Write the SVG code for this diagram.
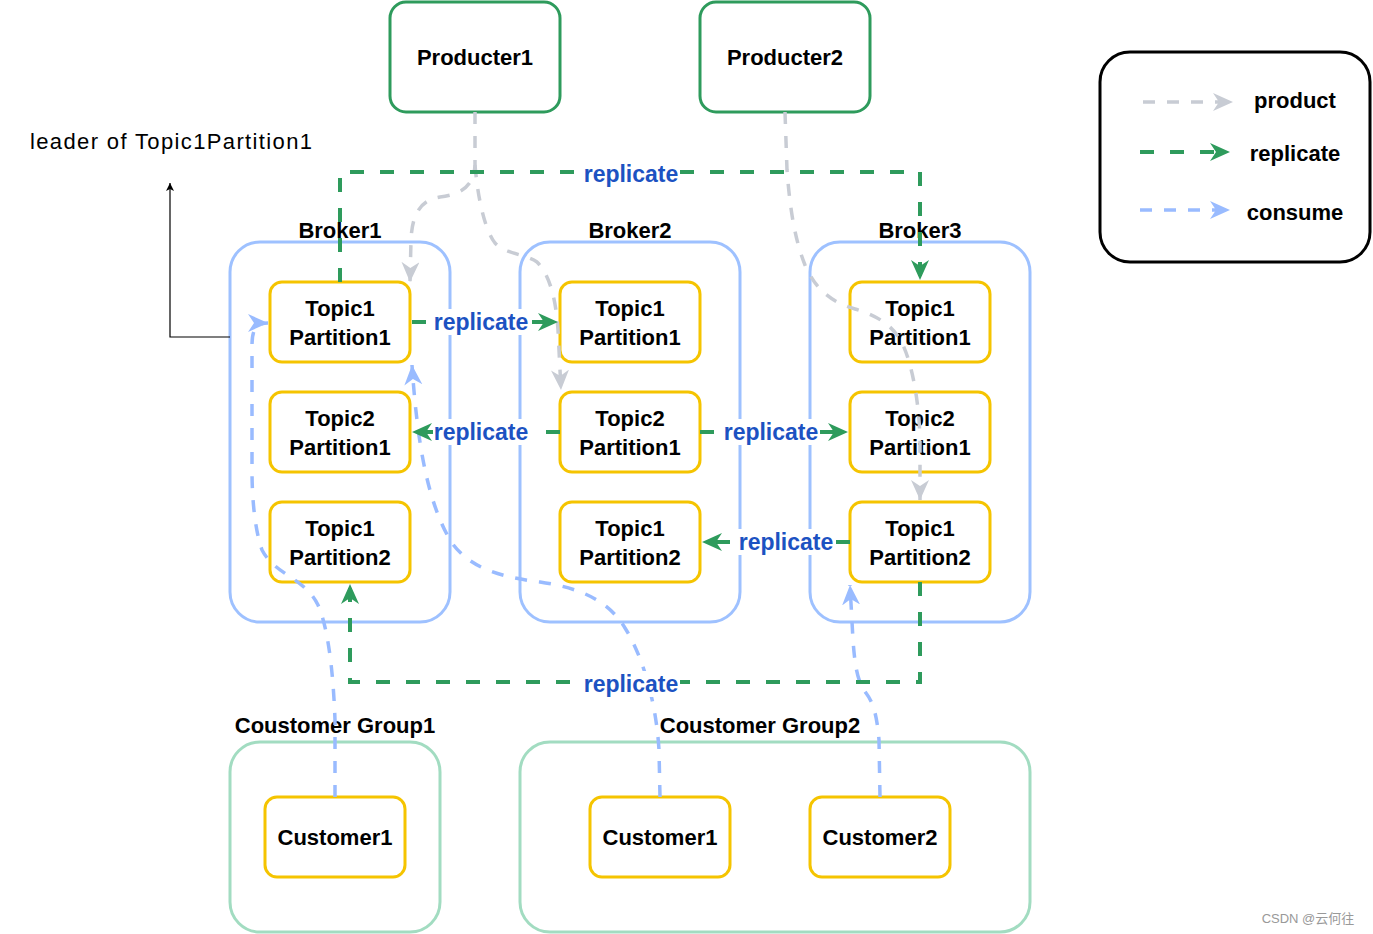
<svg xmlns="http://www.w3.org/2000/svg" width="1373" height="934" viewBox="0 0 1373 934">
<style>
text{font-family:"Liberation Sans",Arial,sans-serif;fill:#000;text-anchor:middle;dominant-baseline:central}
.b{font-weight:bold;font-size:22px}
.n{font-size:22px}
.prod{fill:#fff;stroke:#2e9b5c;stroke-width:3}
.brk{fill:none;stroke:#9ec1ff;stroke-width:3}
.part{fill:#fff;stroke:#f5c400;stroke-width:3}
.grp{fill:none;stroke:#a2dcc1;stroke-width:3}
.leg{fill:#fff;stroke:#000;stroke-width:3}
.g{fill:none;stroke:#2e9b5c;stroke-width:4;stroke-dasharray:14 16}
.p{fill:none;stroke:#c8ccd4;stroke-width:3.5;stroke-dasharray:12 12}
.c{fill:none;stroke:#99bbff;stroke-width:3.5;stroke-dasharray:12 12}
.lbl{fill:#1c52c2;font-size:23px;font-weight:bold}
.bg{fill:#fff}
</style>
<defs>
<marker id="ag" markerUnits="userSpaceOnUse" markerWidth="24" markerHeight="20" refX="20" refY="9" orient="auto"><path d="M0,0 L20,9 L0,18 L6,9 Z" fill="#2e9b5c"/></marker>
<marker id="ap" markerUnits="userSpaceOnUse" markerWidth="24" markerHeight="20" refX="20" refY="9" orient="auto"><path d="M0,0 L20,9 L0,18 L6,9 Z" fill="#c8ccd4"/></marker>
<marker id="ac" markerUnits="userSpaceOnUse" markerWidth="24" markerHeight="20" refX="20" refY="9" orient="auto"><path d="M0,0 L20,9 L0,18 L6,9 Z" fill="#99bbff"/></marker>
<marker id="ak" markerUnits="userSpaceOnUse" markerWidth="10" markerHeight="10" refX="8" refY="4" orient="auto"><path d="M0,0 L8,4 L0,8 L2,4 Z" fill="#000"/></marker>
</defs>

<g id="producer1"><rect class="prod" x="390" y="2" width="170" height="110" rx="16"/><text class="b" x="475" y="57">Producter1</text></g>
<g id="producer2"><rect class="prod" x="700" y="2" width="170" height="110" rx="16"/><text class="b" x="785" y="57">Producter2</text></g>

<g id="broker1"><rect class="brk" x="230" y="242" width="220" height="380" rx="30"/><text class="b" x="340" y="230">Broker1</text></g>
<g id="broker2"><rect class="brk" x="520" y="242" width="220" height="380" rx="30"/><text class="b" x="630" y="230">Broker2</text></g>
<g id="broker3"><rect class="brk" x="810" y="242" width="220" height="380" rx="30"/><text class="b" x="920" y="230">Broker3</text></g>

<g id="b1-t1p1"><rect class="part" x="270" y="282" width="140" height="80" rx="12"/><text class="b" x="340" y="308">Topic1</text><text class="b" x="340" y="337">Partition1</text></g>
<g id="b1-t2p1"><rect class="part" x="270" y="392" width="140" height="80" rx="12"/><text class="b" x="340" y="418">Topic2</text><text class="b" x="340" y="447">Partition1</text></g>
<g id="b1-t1p2"><rect class="part" x="270" y="502" width="140" height="80" rx="12"/><text class="b" x="340" y="528">Topic1</text><text class="b" x="340" y="557">Partition2</text></g>
<g id="b2-t1p1"><rect class="part" x="560" y="282" width="140" height="80" rx="12"/><text class="b" x="630" y="308">Topic1</text><text class="b" x="630" y="337">Partition1</text></g>
<g id="b2-t2p1"><rect class="part" x="560" y="392" width="140" height="80" rx="12"/><text class="b" x="630" y="418">Topic2</text><text class="b" x="630" y="447">Partition1</text></g>
<g id="b2-t1p2"><rect class="part" x="560" y="502" width="140" height="80" rx="12"/><text class="b" x="630" y="528">Topic1</text><text class="b" x="630" y="557">Partition2</text></g>
<g id="b3-t1p1"><rect class="part" x="850" y="282" width="140" height="80" rx="12"/><text class="b" x="920" y="308">Topic1</text><text class="b" x="920" y="337">Partition1</text></g>
<g id="b3-t2p1"><rect class="part" x="850" y="392" width="140" height="80" rx="12"/><text class="b" x="920" y="418">Topic2</text><text class="b" x="920" y="447">Partition1</text></g>
<g id="b3-t1p2"><rect class="part" x="850" y="502" width="140" height="80" rx="12"/><text class="b" x="920" y="528">Topic1</text><text class="b" x="920" y="557">Partition2</text></g>

<g id="group1"><rect class="grp" x="230" y="742" width="210" height="190" rx="30"/><text class="b" x="335" y="725">Coustomer Group1</text></g>
<g id="group2"><rect class="grp" x="520" y="742" width="510" height="190" rx="30"/><text class="b" x="760" y="725">Coustomer Group2</text></g>
<g id="g1-customer1"><rect class="part" x="265" y="797" width="140" height="80" rx="12"/><text class="b" x="335" y="837">Customer1</text></g>
<g id="g2-customer1"><rect class="part" x="590" y="797" width="140" height="80" rx="12"/><text class="b" x="660" y="837">Customer1</text></g>
<g id="g2-customer2"><rect class="part" x="810" y="797" width="140" height="80" rx="12"/><text class="b" x="880" y="837">Customer2</text></g>

<g id="leader-note"><text class="n" x="171" y="141" textLength="282" lengthAdjust="spacing">leader of Topic1Partition1</text></g>

<g id="legend">
<rect class="leg" x="1100" y="52" width="270" height="210" rx="30"/>
<path class="p" d="M1143,102 L1233,102" marker-end="url(#ap)"/>
<text class="b" x="1295" y="100">product</text>
<path class="g" d="M1140,152 L1230,152" stroke-dasharray="12 10" marker-end="url(#ag)"/>
<text class="b" x="1295" y="153">replicate</text>
<path class="c" d="M1140,210 L1230,210" marker-end="url(#ac)"/>
<text class="b" x="1295" y="212">consume</text>
</g>

<g id="connectors">
<path d="M230,337 L170,337 L170,183" fill="none" stroke="#000" stroke-width="1.2" marker-end="url(#ak)"/>
<path class="p" d="M475,112 L475,165 C474,188 458,195 440,197 C420,200 412,215 411,240 L410,282" marker-end="url(#ap)"/>
<path class="p" d="M475,165 C478,200 485,230 495,243 C505,254 525,254 537,262 C550,275 556,300 558,330 L561,390" marker-end="url(#ap)"/>
<path class="p" d="M785,112 L787,170 C790,210 795,240 805,265 C815,288 830,302 855,309 C880,316 895,328 903,345 C912,365 919,400 920,440 L920,500" marker-end="url(#ap)"/>
<path class="c" d="M335,797 L335,720 C333,665 327,625 318,605 C305,578 275,575 262,550 C255,530 252,500 252,470 L252,345 C252,330 256,323 268,323" marker-end="url(#ac)"/>
<path class="c" d="M660,797 L659,750 C656,700 642,655 625,628 C608,600 580,588 540,582 C500,577 468,568 450,540 C430,505 418,455 412,365" marker-end="url(#ac)"/>
<path class="c" d="M880,797 L879,740 C877,715 873,702 866,693 C858,683 855,668 853,640 L850,585" marker-end="url(#ac)"/>
<path class="g" d="M340,282 L340,172 L920,172 L920,280" marker-end="url(#ag)"/>
<path class="g" d="M920,582 L920,682 L350,682 L350,584" marker-end="url(#ag)"/>
<path class="g" d="M412,322 L558,322" stroke-dasharray="12 8" marker-end="url(#ag)"/>
<path class="g" d="M560,432 L412,432" stroke-dasharray="12 8" marker-end="url(#ag)"/>
<path class="g" d="M700,432 L848,432" stroke-dasharray="12 8" marker-end="url(#ag)"/>
<path class="g" d="M850,542 L702,542" stroke-dasharray="12 8" marker-end="url(#ag)"/>
<rect class="bg" x="583" y="161" width="97" height="26"/><text class="lbl" x="631" y="174">replicate</text>
<rect class="bg" x="433" y="309" width="97" height="26"/><text class="lbl" x="481" y="322">replicate</text>
<rect class="bg" x="433" y="419" width="97" height="26"/><text class="lbl" x="481" y="432">replicate</text>
<rect class="bg" x="723" y="419" width="97" height="26"/><text class="lbl" x="771" y="432">replicate</text>
<rect class="bg" x="738" y="529" width="97" height="26"/><text class="lbl" x="786" y="542">replicate</text>
<rect class="bg" x="583" y="671" width="97" height="26"/><text class="lbl" x="631" y="684">replicate</text>
</g>

<text x="1308" y="918" style="font-size:13px;fill:#999;font-family:'Liberation Sans','Noto Sans CJK SC',sans-serif">CSDN @云何往</text>
</svg>
